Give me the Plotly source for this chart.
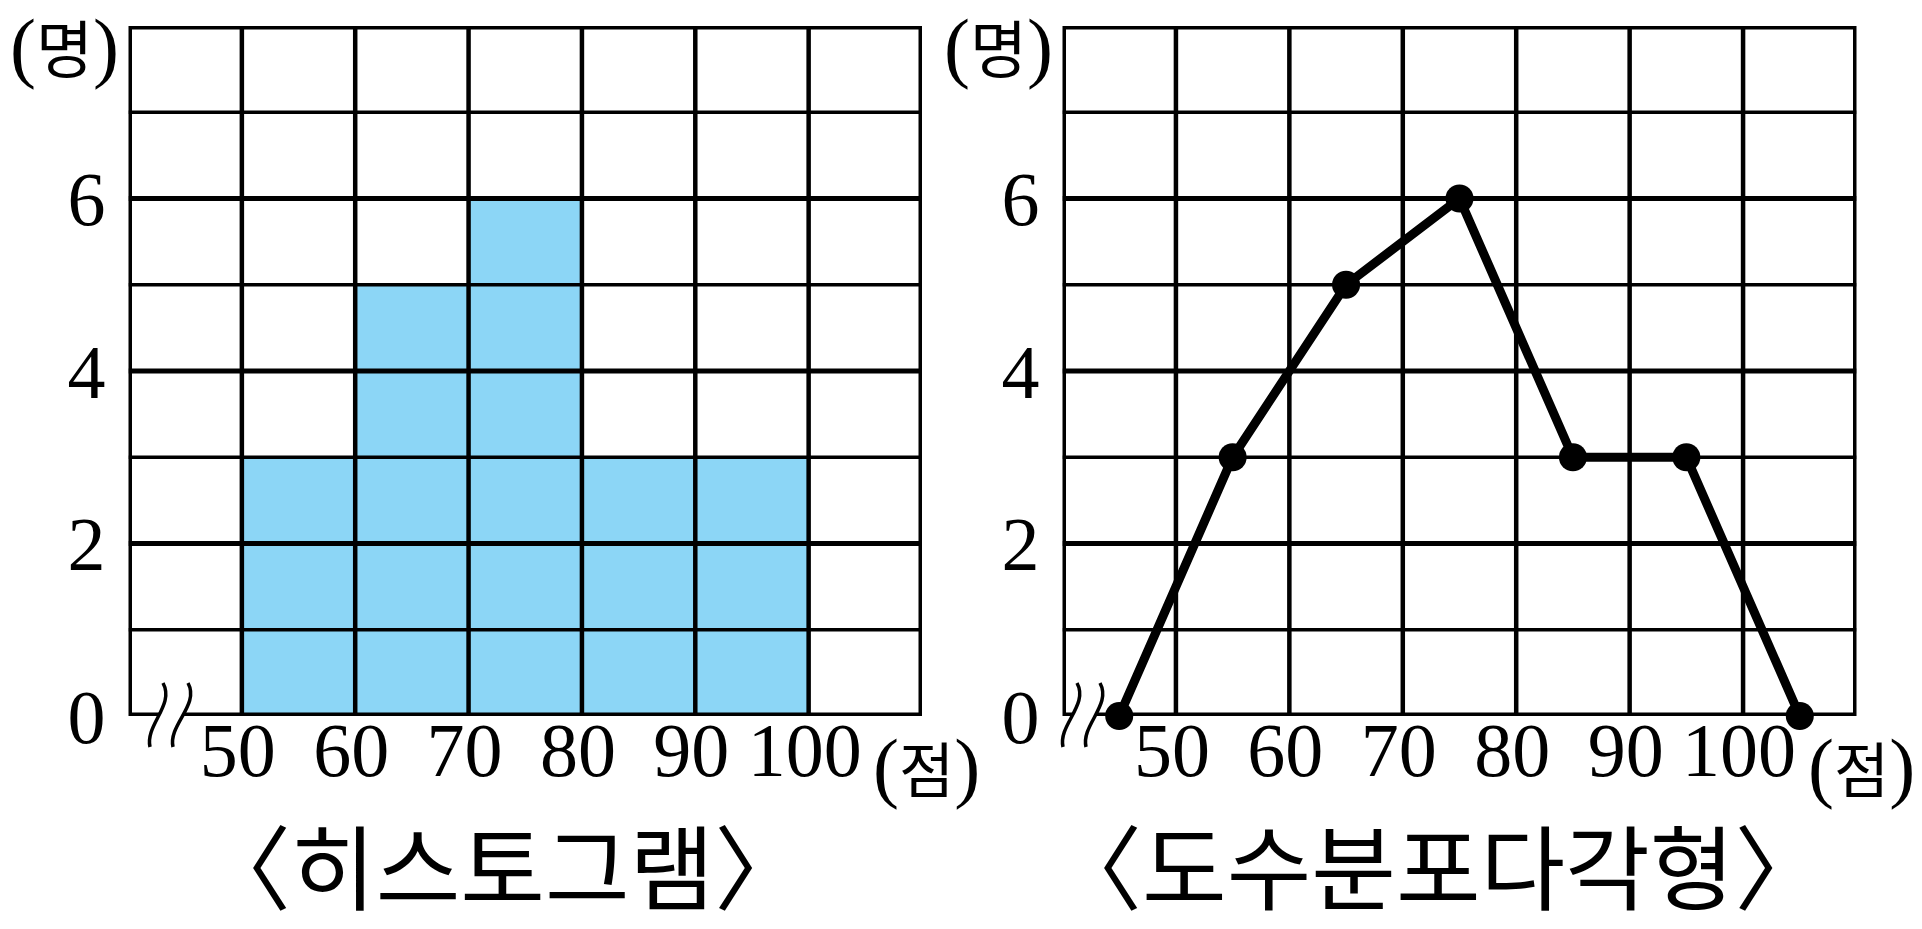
import plotly.graph_objects as go

# ---- data ----
bin_starts = [50, 60, 70, 80, 90]
counts = [3, 5, 6, 3, 3]
bin_width = 10
poly_x = [45, 55, 65, 75, 85, 95, 105]
poly_y = [0, 3, 5, 6, 3, 3, 0]
x_tickvals = [50, 60, 70, 80, 90, 100]
x_ticktext = ["50", "60", "70", "80", "90", "100"]
y_tickvals = [0, 2, 4, 6]
y_ticktext = ["0", "2", "4", "6"]
titles = ["〈히스토그램〉", "〈도수분포다각형〉"]

W, H = 1922, 929
BLUE = "#8CD6F6"
SERIF = "Liberation Serif, DejaVu Serif, serif"
KR = "Noto Sans CJK KR"

def px(x):
    return x / W

def py(y):
    return 1 - y / H

fig = go.Figure()

fig.add_trace(go.Bar(
    x=bin_starts, y=counts, width=bin_width, offset=0,
    marker=dict(color=BLUE, line=dict(width=0)),
    xaxis="x", yaxis="y", showlegend=False, hoverinfo="skip",
))
fig.add_trace(go.Scatter(
    x=poly_x, y=poly_y, mode="lines+markers",
    line=dict(color="black", width=9),
    marker=dict(color="black", size=28),
    xaxis="x2", yaxis="y2", showlegend=False, cliponaxis=False, hoverinfo="skip",
))

top, bottom = 26, 716
doms = [(128.5, 922), (1062.5, 1856.5)]

axis_common = dict(
    showgrid=False, zeroline=False, showline=False, ticks="",
    tickfont=dict(family=SERIF, size=76, color="black"),
    fixedrange=True, automargin=False,
)
layout = dict(
    width=W, height=H, autosize=False,
    margin=dict(l=0, r=0, t=0, b=0, autoexpand=False),
    paper_bgcolor="white", plot_bgcolor="white",
    showlegend=False,
)
for i, (l, r) in enumerate(doms):
    sfx = "" if i == 0 else "2"
    layout["xaxis" + sfx] = dict(
        axis_common, domain=[px(l), px(r)], range=[40, 110],
        tickvals=x_tickvals, ticktext=x_ticktext,
        anchor="y" + sfx, ticklabelstandoff=-17, ticklabelshift=-4,
    )
    layout["yaxis" + sfx] = dict(
        axis_common, domain=[py(bottom), py(top)], range=[0, 8],
        tickvals=y_tickvals, ticktext=y_ticktext,
        anchor="x" + sfx, ticklabelstandoff=22,
    )
fig.update_layout(**layout)

shapes = []
for i in range(2):
    xr = "x" if i == 0 else "x2"
    yr = "y" if i == 0 else "y2"
    lay = "above" if i == 0 else "between"
    for xv in range(50, 110, 10):
        shapes.append(dict(type="line", xref=xr, yref=yr, x0=xv, x1=xv, y0=0, y1=8,
                           line=dict(color="black", width=4.5), layer=lay))
    for yv in range(1, 8):
        shapes.append(dict(type="line", xref=xr, yref=yr, x0=40, x1=110, y0=yv, y1=yv,
                           line=dict(color="black", width=5 if yv % 2 == 0 else 3.5), layer=lay))
    shapes.append(dict(type="rect", xref=xr, yref=yr, x0=40, x1=110, y0=0, y1=8,
                       line=dict(color="black", width=7), layer="above"))

def curve(xt, xb):
    return (xt, 683, xt + 12, 705, xb - 5, 725, xb, 747)

def to_path(c):
    x0, y0, x1, y1, x2, y2, x3, y3 = c
    return "M %f,%f C %f,%f %f,%f %f,%f" % (px(x0), py(y0), px(x1), py(y1), px(x2), py(y2), px(x3), py(y3))

def fill_path(c1, c2):
    x0, y0, x1, y1, x2, y2, x3, y3 = c1
    a0, b0, a1, b1, a2, b2, a3, b3 = c2
    return ("M %f,%f C %f,%f %f,%f %f,%f L %f,%f C %f,%f %f,%f %f,%f Z" % (
        px(x0), py(y0), px(x1), py(y1), px(x2), py(y2), px(x3), py(y3),
        px(a3), py(b3), px(a2), py(b2), px(a1), py(b1), px(a0), py(b0)))

for (t1, b1, t2, b2) in [(163, 150, 188, 173), (1077, 1063, 1100, 1086)]:
    c1 = curve(t1, b1)
    c2 = curve(t2, b2)
    shapes.append(dict(type="path", xref="paper", yref="paper", path=fill_path(c1, c2),
                       fillcolor="white", line=dict(width=0), layer="above"))
    for c in (c1, c2):
        shapes.append(dict(type="path", xref="paper", yref="paper", path=to_path(c),
                           line=dict(color="black", width=3.5), layer="above"))
fig.update_layout(shapes=shapes)

ann = []
unit_y = "(<span style='font-family:%s;font-size:62px'>명</span>)" % KR
unit_x = "(<span style='font-family:%s;font-size:60px'>점</span>)" % KR
for cx in (64, 998):
    ann.append(dict(x=px(cx), y=py(46), xref="paper", yref="paper", text=unit_y,
                    showarrow=False, xanchor="center", yanchor="middle",
                    font=dict(family=SERIF, size=78, color="black")))
for cx in (926, 1861):
    ann.append(dict(x=px(cx), y=py(766), xref="paper", yref="paper", text=unit_x,
                    showarrow=False, xanchor="center", yanchor="middle", borderpad=0,
                    font=dict(family=SERIF, size=78, color="black")))
for cx, t in zip((502, 1438), titles):
    ann.append(dict(x=px(cx), y=py(862), xref="paper", yref="paper", text=t,
                    showarrow=False, xanchor="center", yanchor="middle", borderpad=0,
                    font=dict(family=KR, size=92, color="black")))
fig.update_layout(annotations=ann)

post = "document.documentElement.style.margin='0';document.body.style.margin='0';"
fig.write_html("out.html", post_script=post, config={"displayModeBar": False})
